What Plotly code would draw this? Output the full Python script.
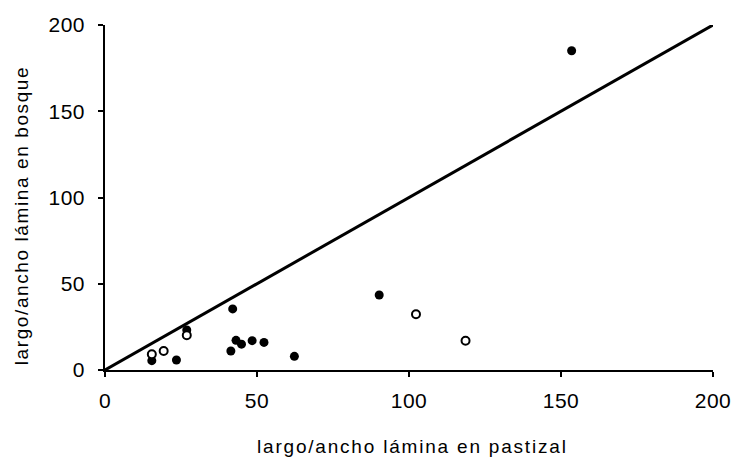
import plotly.graph_objects as go

# Filled points (series 1)
filled_x = [153.5, 90.2, 42.0, 26.9, 15.4, 23.5, 41.4, 43.1, 44.9, 48.4, 52.3, 62.3]
filled_y = [185.1, 43.5, 35.4, 23.2, 5.4, 5.8, 11.0, 17.2, 15.0, 17.0, 16.0, 7.9]

# Open points (series 2)
open_x = [102.3, 118.6, 26.9, 15.4, 19.3]
open_y = [32.3, 17.0, 20.1, 9.1, 11.0]

# 1:1 reference line
line_x = [0, 200]
line_y = [0, 200]

tick_vals = [0, 50, 100, 150, 200]
tick_text = ["0", "50", "100", "150", "200"]

x_title = "largo/ancho lámina en pastizal"
y_title = "largo/ancho lámina en bosque"

font_family = "Liberation Sans, Arial, sans-serif"


def spaced(t, px):
    return f'<span style="letter-spacing:{px}px">{t}</span>'


fig = go.Figure()
fig.add_trace(go.Scatter(x=line_x, y=line_y, mode="lines",
                         line=dict(color="black", width=3), showlegend=False,
                         cliponaxis=False))
fig.add_trace(go.Scatter(x=filled_x, y=filled_y, mode="markers",
                         marker=dict(color="black", size=9, line=dict(width=0)),
                         showlegend=False, cliponaxis=False))
fig.add_trace(go.Scatter(x=open_x, y=open_y, mode="markers",
                         marker=dict(color="white", size=8, line=dict(color="black", width=2)),
                         showlegend=False, cliponaxis=False))

axis_common = dict(
    range=[0, 200], tickvals=tick_vals, ticktext=[spaced(t, 0.5) for t in tick_text],
    ticks="outside", ticklen=5, tickwidth=1.5,
    tickcolor="black", showline=True, linecolor="black", linewidth=1.5,
    showgrid=False, zeroline=False, automargin=False,
    tickfont=dict(family=font_family, size=21, color="black"),
)

fig.update_xaxes(**axis_common, ticklabelstandoff=6)
fig.update_yaxes(**axis_common, ticklabelstandoff=9)

fig.add_annotation(text=spaced(x_title, 1.8), xref="paper", yref="paper",
                   x=0.506, y=-0.222, xanchor="center", yanchor="middle", showarrow=False,
                   font=dict(family=font_family, size=19, color="black"))
fig.add_annotation(text=spaced(y_title, 1.6), xref="paper", yref="paper",
                   x=-0.138, y=0.446, xanchor="center", yanchor="middle", showarrow=False,
                   textangle=-90,
                   font=dict(family=font_family, size=19, color="black"))

fig.update_layout(
    width=734, height=457,
    margin=dict(l=105, r=21, t=25, b=87),
    paper_bgcolor="white", plot_bgcolor="white",
)

fig.write_html("out.html")
